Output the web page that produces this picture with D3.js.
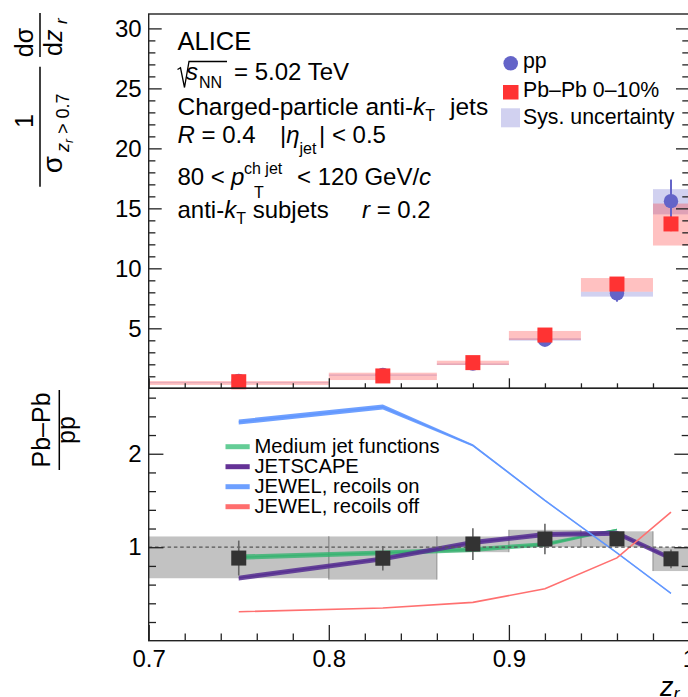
<!DOCTYPE html>
<html>
<head>
<meta charset="utf-8">
<script src="https://cdn.jsdelivr.net/npm/d3@7"></script>
<style>
body { margin: 0; background: #fff; }
svg { display: block; font-family: "Liberation Sans", Arial, Helvetica, sans-serif; }
</style>
</head>
<body>
<svg id="chart"></svg>
<script>
// z_r binning
var binEdges = [0.7, 0.8, 0.86, 0.9, 0.94, 0.98, 1.0];
var zCenters = [0.75, 0.83, 0.88, 0.92, 0.96, 0.99];

// pp
var ppVal = [0.62, 1.12, 2.06, 4.05, 7.92, 15.6];
var ppStat = [0.05, 0.08, 0.1, 0.2, 0.7, 1.8];
var ppSysLo = [0.43, 1.05, 1.96, 3.97, 7.64, 14.5];
var ppSysHi = [0.5, 1.15, 2.06, 4.17, 8.05, 16.6];

// Pb-Pb 0-10%
var pbVal = [0.55, 1.03, 2.14, 4.44, 8.69, 13.7];
var pbStat = [0.03, 0.05, 0.08, 0.15, 0.3, 0.6];
var pbSysLo = [0.28, 0.69, 1.94, 4.03, 8.05, 11.9];
var pbSysHi = [0.6, 1.3, 2.3, 4.78, 9.19, 15.4];

// Pb-Pb / pp
var ratioVal = [0.884, 0.882, 1.034, 1.088, 1.09, 0.876];
var ratioStat = [0.187, 0.13, 0.17, 0.164, 0.06, 0.1];
var ratioSysLo = [0.668, 0.654, 0.947, 1.0, 1.0, 0.745];
var ratioSysHi = [1.115, 1.115, 1.115, 1.186, 1.17, 1.0];

// models
var mjfZ = [0.75, 0.83, 0.88, 0.92, 0.96];
var mjfVal = [0.893, 0.94, 0.975, 1.03, 1.19];
var mjfErr = [0.028, 0.026, 0.025, 0.022, 0.008];
var jetscapeVal = [0.67, 0.876, 1.05, 1.136, 1.15, 0.88];
var jetscapeErr = [0.026, 0.026, 0.026, 0.026, 0.026, 0.026];
var jewelOnVal = [2.34, 2.50, 2.09, 1.50, 0.94, 0.507];
var jewelOnErr = [0.027, 0.027, 0.012, 0.007, 0.007, 0.007];
var jewelOffVal = [0.31, 0.35, 0.41, 0.555, 0.886, 1.375];

var xLabels = [0.7, 0.8, 0.9, 1.0];
var yTopLabels = [5, 10, 15, 20, 25, 30];
var yBotLabels = [1, 2];

var models = [
  {name: "Medium jet functions", z: mjfZ, val: mjfVal, err: mjfErr, color: "rgba(50,180,110,0.78)", leg: "#64cd96"},
  {name: "JETSCAPE", z: zCenters, val: jetscapeVal, err: jetscapeErr, color: "rgba(85,45,145,0.85)", leg: "#643296"},
  {name: "JEWEL, recoils on", z: zCenters, val: jewelOnVal, err: jewelOnErr, color: "rgba(95,150,255,0.9)", leg: "#6ea0ff"},
  {name: "JEWEL, recoils off", z: zCenters, val: jewelOffVal, err: null, color: "#ff7070", leg: "#ff6e6e"}
];

var FONT = '"Liberation Sans", Arial, Helvetica, sans-serif';
var W = 688, H = 697;
var svg = d3.select('#chart').attr('width', W).attr('height', H);

var x = d3.scaleLinear().domain([0.7, 1.0]).range([148.7, 689]);
var yTop = d3.scaleLinear().domain([0, 31.2]).range([388.3, 14]);
var yBot = d3.scaleLinear().domain([0, 2.7]).range([640.7, 388.3]);

// ---------- upper panel ----------
var upper = svg.append('g');
var idx = d3.range(zCenters.length);

upper.selectAll('rect.ppsys').data(idx).enter().append('rect')
  .attr('x', i => x(binEdges[i]))
  .attr('width', i => x(binEdges[i + 1]) - x(binEdges[i]))
  .attr('y', i => yTop(ppSysHi[i]))
  .attr('height', i => yTop(ppSysLo[i]) - yTop(ppSysHi[i]))
  .attr('fill', 'rgba(102,102,204,0.3)');

upper.selectAll('rect.pbsys').data(idx).enter().append('rect')
  .attr('x', i => x(binEdges[i]))
  .attr('width', i => x(binEdges[i + 1]) - x(binEdges[i]))
  .attr('y', i => yTop(pbSysHi[i]))
  .attr('height', i => yTop(pbSysLo[i]) - yTop(pbSysHi[i]))
  .attr('fill', 'rgba(255,51,51,0.3)');

upper.selectAll('line.pperr').data(idx).enter().append('line')
  .attr('x1', i => x(zCenters[i])).attr('x2', i => x(zCenters[i]))
  .attr('y1', i => yTop(ppVal[i] + ppStat[i]))
  .attr('y2', i => yTop(ppVal[i] - ppStat[i]))
  .attr('stroke', '#6464c8').attr('stroke-width', 2);

upper.selectAll('circle.pp').data(idx).enter().append('circle')
  .attr('cx', i => x(zCenters[i]))
  .attr('cy', i => yTop(ppVal[i]))
  .attr('r', 7.2)
  .attr('fill', '#6464c8');

upper.selectAll('line.pberr').data(idx).enter().append('line')
  .attr('x1', i => x(zCenters[i])).attr('x2', i => x(zCenters[i]))
  .attr('y1', i => yTop(pbVal[i] + pbStat[i]))
  .attr('y2', i => yTop(pbVal[i] - pbStat[i]))
  .attr('stroke', '#ff3333').attr('stroke-width', 2);

upper.selectAll('rect.pb').data(idx).enter().append('rect')
  .attr('x', i => x(zCenters[i]) - 7.5)
  .attr('y', i => yTop(pbVal[i]) - 7.5)
  .attr('width', 15).attr('height', 15)
  .attr('fill', '#ff3333');

// ---------- lower panel ----------
var lower = svg.append('g');

lower.selectAll('rect.rsys').data(idx).enter().append('rect')
  .attr('x', i => x(binEdges[i]))
  .attr('width', i => x(binEdges[i + 1]) - x(binEdges[i]))
  .attr('y', i => yBot(ratioSysHi[i]))
  .attr('height', i => yBot(ratioSysLo[i]) - yBot(ratioSysHi[i]))
  .attr('fill', '#c2c2c2');

idx.forEach(function(i) {
  [binEdges[i], binEdges[i + 1]].forEach(function(e) {
    lower.append('line')
      .attr('x1', x(e)).attr('x2', x(e))
      .attr('y1', yBot(ratioSysHi[i])).attr('y2', yBot(ratioSysLo[i]))
      .attr('stroke', '#8f8f8f').attr('stroke-width', 1);
  });
});

models.forEach(function(m) {
  var pts = m.z.map((z, i) => ({z: z, v: m.val[i], e: m.err ? m.err[i] : 0}));
  if (m.err) {
    var band = d3.area()
      .x(d => x(d.z))
      .y0(d => yBot(d.v - d.e))
      .y1(d => yBot(d.v + d.e));
    lower.append('path').datum(pts).attr('d', band).attr('fill', m.color);
  }
  var line = d3.line().x(d => x(d.z)).y(d => yBot(d.v));
  lower.append('path').datum(pts).attr('d', line)
    .attr('fill', 'none').attr('stroke', m.color).attr('stroke-width', 1.6);
});

lower.append('line')
  .attr('x1', x(0.7)).attr('x2', x(1.0))
  .attr('y1', yBot(1)).attr('y2', yBot(1))
  .attr('stroke', '#555').attr('stroke-width', 1.3)
  .attr('stroke-dasharray', '3.5,2.8');

lower.selectAll('line.rerr').data(idx).enter().append('line')
  .attr('x1', i => x(zCenters[i])).attr('x2', i => x(zCenters[i]))
  .attr('y1', i => yBot(ratioVal[i] + ratioStat[i]))
  .attr('y2', i => yBot(ratioVal[i] - ratioStat[i]))
  .attr('stroke', '#666').attr('stroke-width', 1.6);

lower.selectAll('rect.r').data(idx).enter().append('rect')
  .attr('x', i => x(zCenters[i]) - 7.5)
  .attr('y', i => yBot(ratioVal[i]) - 7.5)
  .attr('width', 15).attr('height', 15)
  .attr('fill', '#333');

// ---------- frames and axes ----------
svg.append('rect').attr('x', 148.7).attr('y', 14).attr('width', 541).attr('height', 388.3 - 14)
  .attr('fill', 'none').attr('stroke', '#222').attr('stroke-width', 1.4);
svg.append('rect').attr('x', 148.7).attr('y', 388.3).attr('width', 541).attr('height', 640.7 - 388.3)
  .attr('fill', 'none').attr('stroke', '#222').attr('stroke-width', 1.4);

function ticks(axis, transform, labels) {
  var g = svg.append('g').attr('transform', transform).call(axis);
  g.select('.domain').remove();
  g.selectAll('.tick line').attr('stroke', '#222').attr('stroke-width', 1.3);
  g.attr('font-family', FONT).attr('font-size', 24);
  if (!labels) g.selectAll('.tick text').remove();
  return g;
}

var yTopMinor = d3.range(1, 31, 1).filter(v => v % 5 !== 0);
var yBotMinor = d3.range(0.2, 2.7, 0.2).filter(v => Math.abs(v - Math.round(v)) > 0.01);
var xMinor = d3.range(0.72, 0.99, 0.02).filter(v => Math.abs(v * 10 - Math.round(v * 10)) > 0.01);

// left axes
ticks(d3.axisLeft(yTop).tickValues(yTopLabels).tickSize(-13).tickPadding(7).tickFormat(d3.format('d')), 'translate(148.7,0)', true);
ticks(d3.axisLeft(yTop).tickValues(yTopMinor).tickSize(-6.7).tickFormat(''), 'translate(148.7,0)');
ticks(d3.axisLeft(yBot).tickValues(yBotLabels).tickSize(-14.7).tickPadding(7).tickFormat(d3.format('d')), 'translate(148.7,0)', true);
ticks(d3.axisLeft(yBot).tickValues(yBotMinor).tickSize(-7.3).tickFormat(''), 'translate(148.7,0)');
// right axes
ticks(d3.axisRight(yTop).tickValues(yTopLabels).tickSize(-13).tickFormat(''), 'translate(689,0)');
ticks(d3.axisRight(yTop).tickValues(yTopMinor).tickSize(-6.7).tickFormat(''), 'translate(689,0)');
ticks(d3.axisRight(yBot).tickValues(yBotLabels).tickSize(-14.7).tickFormat(''), 'translate(689,0)');
ticks(d3.axisRight(yBot).tickValues(yBotMinor).tickSize(-7.3).tickFormat(''), 'translate(689,0)');
// x axes
ticks(d3.axisBottom(x).tickValues(xLabels).tickSize(-10).tickFormat(''), 'translate(0,388.3)');
ticks(d3.axisBottom(x).tickValues(xMinor).tickSize(-5).tickFormat(''), 'translate(0,388.3)');
ticks(d3.axisBottom(x).tickValues(xLabels).tickSize(-15.7).tickPadding(9).tickFormat(d3.format('~g')), 'translate(0,640.7)', true);
ticks(d3.axisBottom(x).tickValues(xMinor).tickSize(-7.3).tickFormat(''), 'translate(0,640.7)');

// ---------- texts ----------
function richText(x0, y0, size, parts) {
  var t = svg.append('text').attr('x', x0).attr('y', y0).attr('font-size', size);
  parts.forEach(function(p) {
    var s = t.append('tspan').text(p.t);
    if (p.x != null) s.attr('x', p.x);
    if (p.y != null) s.attr('y', p.y);
    if (p.s) s.attr('font-size', p.s);
    if (p.i) s.attr('font-style', 'italic');
  });
  return t;
}

richText(177.5, 50, 25.5, [{t: 'ALICE'}]);
svg.append('path')
  .attr('d', 'M177.5,69.5 L180.5,67.8 L184.5,87.5 L189,61.5 L227,61.5')
  .attr('fill', 'none').attr('stroke', '#000').attr('stroke-width', 1.3);
richText(186, 80, 24, [{t: 's', i: 1}, {t: 'NN', s: 16, x: 199, y: 88}, {t: '= 5.02 TeV', x: 234, y: 80}]);
richText(177.5, 115, 24.5, [{t: 'Charged-particle anti-'}, {t: 'k', i: 1}, {t: 'T', s: 16, y: 121}, {t: 'jets', x: 450, y: 115}]);
richText(177.5, 143.3, 24, [{t: 'R', i: 1}, {t: ' = 0.4'}, {t: '|', x: 280}, {t: 'η', i: 1}, {t: 'jet', s: 16, y: 153.5}, {t: '| < 0.5', x: 319, y: 143.3}]);
richText(177.5, 185, 24, [{t: '80 <'}, {t: 'p', i: 1, x: 231}, {t: 'ch jet', s: 16, x: 244, y: 174.3}, {t: 'T', s: 16, x: 254, y: 198}, {t: '< 120 GeV/', x: 297, y: 185}, {t: 'c', i: 1}]);
richText(177.5, 218.3, 24, [{t: 'anti-'}, {t: 'k', i: 1}, {t: 'T', s: 16, y: 224}, {t: ' subjets', y: 218.3}, {t: 'r', i: 1, x: 362}, {t: ' = 0.2'}]);

// upper legend
svg.append('circle').attr('cx', 510.7).attr('cy', 63.3).attr('r', 7.3).attr('fill', '#6464c8');
svg.append('rect').attr('x', 503).attr('y', 85).attr('width', 15.5).attr('height', 14.5).attr('fill', '#ff3333');
svg.append('rect').attr('x', 501).attr('y', 108.3).attr('width', 19).attr('height', 19).attr('fill', 'rgba(102,102,204,0.3)');
richText(523, 68.3, 21.3, [{t: 'pp'}]);
richText(523, 96.7, 21.3, [{t: 'Pb\u2013Pb 0\u201310%'}]);
richText(523, 124, 21.3, [{t: 'Sys. uncertainty'}]);

// lower legend
models.forEach(function(m, i) {
  var yy = 446.7 + 20 * i;
  svg.append('line').attr('x1', 225.5).attr('x2', 249.7).attr('y1', yy).attr('y2', yy)
    .attr('stroke', m.leg).attr('stroke-width', 5);
  richText(254.5, yy + 6.3, 20.2, [{t: m.name}]);
});

// y titles (rotated: local (u,v) -> screen (v,-u))
var yt = svg.append('g').attr('transform', 'rotate(-90)');
yt.append('line').attr('x1', -186.7).attr('x2', -66.7).attr('y1', 40).attr('y2', 40)
  .attr('stroke', '#000').attr('stroke-width', 1.5);
yt.append('text').attr('x', -121).attr('y', 33).attr('text-anchor', 'middle').attr('font-size', 25).text('1');
yt.append('text').attr('x', -156).attr('y', 62).attr('text-anchor', 'end').attr('font-size', 28).text('σ');
var sub = yt.append('text').attr('x', -152).attr('y', 69).attr('font-size', 18);
sub.append('tspan').attr('font-style', 'italic').text('z');
sub.append('tspan').attr('font-style', 'italic').attr('font-size', 12).attr('y', 73).text('r');
sub.append('tspan').attr('y', 69).text(' > 0.7');

yt.append('line').attr('x1', -57).attr('x2', -13).attr('y1', 40).attr('y2', 40)
  .attr('stroke', '#000').attr('stroke-width', 1.5);
yt.append('text').attr('x', -42.5).attr('y', 33).attr('text-anchor', 'middle').attr('font-size', 25).text('dσ');
var dz = yt.append('text').attr('x', -56).attr('y', 62).attr('font-size', 25);
dz.append('tspan').text('d');
dz.append('tspan').attr('font-style', 'italic').text('z');
dz.append('tspan').attr('font-style', 'italic').attr('font-size', 17).attr('x', -24).attr('y', 67).text('r');

yt.append('line').attr('x1', -470).attr('x2', -390).attr('y1', 59.3).attr('y2', 59.3)
  .attr('stroke', '#000').attr('stroke-width', 1.5);
yt.append('text').attr('x', -430).attr('y', 50).attr('text-anchor', 'middle').attr('font-size', 25).text('Pb\u2013Pb');
yt.append('text').attr('x', -430).attr('y', 75).attr('text-anchor', 'middle').attr('font-size', 25).text('pp');

// x title
richText(660, 696, 27, [{t: 'z', i: 1}, {t: 'r', i: 1, s: 18, y: 700}]);
</script>
</body>
</html>
